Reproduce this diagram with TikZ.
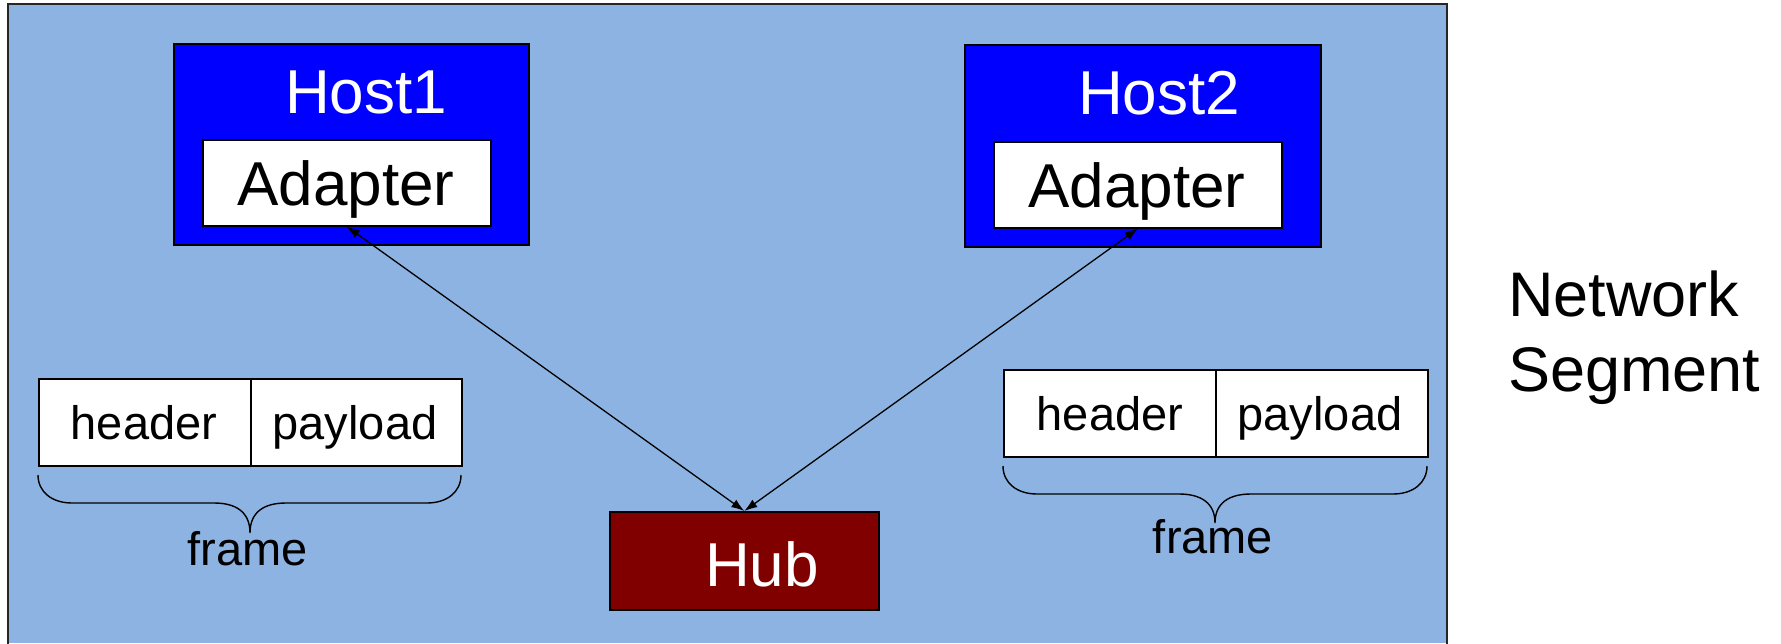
\documentclass[tikz,border=0pt]{standalone}
\usepackage{fontspec}
\setmainfont{Liberation Sans}
\usetikzlibrary{arrows.meta}

\definecolor{segbg}{RGB}{141,179,226}
\definecolor{hostblue}{RGB}{0,0,255}
\definecolor{hubred}{RGB}{128,0,0}

\begin{document}
\begin{tikzpicture}[x=1pt,y=-1pt,
  box/.style={draw=black,line width=1.6pt,inner sep=0pt,anchor=north west},
  hostbox/.style={box,fill=hostblue},
  whitebox/.style={box,fill=white},
  hubbox/.style={box,fill=hubred},
  lbl/.style={inner sep=0pt,anchor=base},
  big/.style={font=\fontsize{62}{74}\selectfont},
  mid/.style={font=\fontsize{47}{56}\selectfont},
  link/.style={line width=1.3pt,{Latex[length=13pt,width=9pt]}-{Latex[length=13pt,width=9pt]}},
  bracestyle/.style={line width=1.4pt}]

\useasboundingbox (0,0) rectangle (1781,643);

% network segment area (open at the bottom)
\fill[segbg] (8,4) rectangle (1447,643);
\draw[line width=2pt,black!85] (8,650) -- (8,4) -- (1447,4) -- (1447,650);

% hosts with their adapters
\node[hostbox,minimum width=355pt,minimum height=201pt] (host1) at (173,43) {};
\node[whitebox,minimum width=288pt,minimum height=86pt] (ad1) at (202,139) {};
\node[lbl,big,text=white] (host1lbl) at (366,113) {Host1};
\node[lbl,big] (ad1lbl) at (346,205) {Adapter};

\node[hostbox,minimum width=356pt,minimum height=202pt] (host2) at (964,44) {};
\node[whitebox,minimum width=288pt,minimum height=86pt] (ad2) at (993,141) {};
\node[lbl,big,text=white] (host2lbl) at (1159,114) {Host2};
\node[lbl,big] (ad2lbl) at (1137,207) {Adapter};

% hub
\node[hubbox,minimum width=269pt,minimum height=98pt] (hub) at (609,511) {};
\node[lbl,big,text=white] (hublbl) at (762,586) {Hub};

% links
\draw[link] (ad1.south) -- (hub.north);
\draw[link] (ad2.south) -- (hub.north);

% left frame
\node[whitebox,minimum width=212pt,minimum height=87pt] (f1h) at (38,378) {};
\node[whitebox,minimum width=211pt,minimum height=87pt] (f1p) at (250,378) {};
\node[lbl,mid] (f1hl) at (144,439) {header};
\node[lbl,mid] (f1pl) at (355,439) {payload};
\draw[bracestyle] (38,475) .. controls (38,492) and (52,503) .. (72,503) -- (214,503)
  .. controls (236,503) and (250,512) .. (250,533)
  .. controls (250,512) and (264,503) .. (286,503) -- (427,503)
  .. controls (447,503) and (461,492) .. (461,475);
\node[lbl,mid] (f1l) at (248,565) {frame};

% right frame
\node[whitebox,minimum width=212pt,minimum height=87pt] (f2h) at (1003,369) {};
\node[whitebox,minimum width=212pt,minimum height=87pt] (f2p) at (1215,369) {};
\node[lbl,mid] (f2hl) at (1110,430) {header};
\node[lbl,mid] (f2pl) at (1320,430) {payload};
\draw[bracestyle] (1003,466) .. controls (1003,483) and (1017,494) .. (1037,494) -- (1179,494)
  .. controls (1201,494) and (1215,503) .. (1215,523)
  .. controls (1215,503) and (1229,494) .. (1251,494) -- (1393,494)
  .. controls (1413,494) and (1427,483) .. (1427,466);
\node[lbl,mid] (f2l) at (1213,553) {frame};

% caption (base anchor sits on the last line)
\node[inner sep=0pt,anchor=base west,align=left,font=\fontsize{63}{75}\selectfont] (seg) at (1508,391) {Network\\Segment};

\end{tikzpicture}
\end{document}
